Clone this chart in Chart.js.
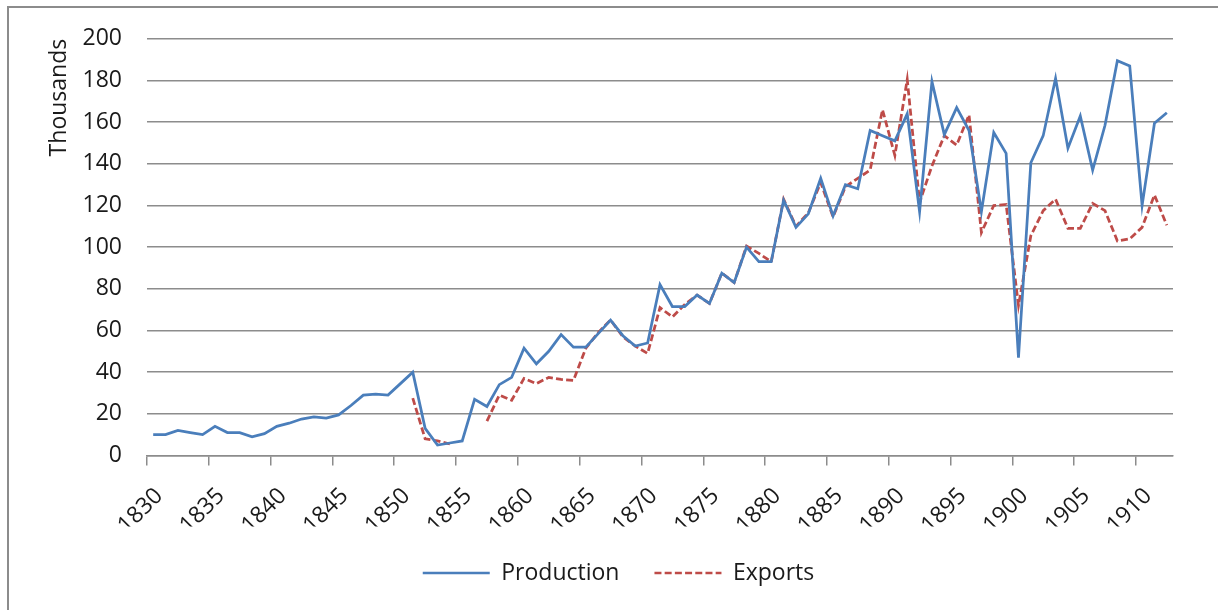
<!DOCTYPE html>
<html>
<head>
<meta charset="utf-8">
<script src="https://cdn.jsdelivr.net/npm/chart.js@4.4.1/dist/chart.umd.min.js"></script>
<style>
  html, body { margin: 0; padding: 0; background: #fff; }
  #wrap { position: relative; width: 1218px; height: 610px; overflow: hidden; }
  #frame { position: absolute; left: 7px; top: 6px; right: -10px; bottom: -10px;
           border-left: 2px solid #8c8c8c; border-top: 2px solid #8c8c8c; }
  #js--chart--1 { position: absolute; left: 0; top: 0; }
</style>
</head>
<body>
<div id="wrap">
  <div id="frame"></div>
  <canvas id="js--chart--1" width="1218" height="610"></canvas>
</div>
<script>
const years = [
  1830, 1831, 1832, 1833, 1834, 1835, 1836, 1837, 1838, 1839,
  1840, 1841, 1842, 1843, 1844, 1845, 1846, 1847, 1848, 1849,
  1850, 1851, 1852, 1853, 1854, 1855, 1856, 1857, 1858, 1859,
  1860, 1861, 1862, 1863, 1864, 1865, 1866, 1867, 1868, 1869,
  1870, 1871, 1872, 1873, 1874, 1875, 1876, 1877, 1878, 1879,
  1880, 1881, 1882, 1883, 1884, 1885, 1886, 1887, 1888, 1889,
  1890, 1891, 1892, 1893, 1894, 1895, 1896, 1897, 1898, 1899,
  1900, 1901, 1902, 1903, 1904, 1905, 1906, 1907, 1908, 1909,
  1910, 1911, 1912
];

// thousands
const production = [
  10, 10, 12, 11, 10, 14, 11, 11, 9, 10.5,
  14, 15.5, 17.5, 18.5, 18, 19.5, 24, 29, 29.5, 29,
  34.5, 40, 13, 5, 6, 7, 27, 23.5, 34, 37.5,
  51.5, 44, 50, 58, 52, 52, 58.5, 65, 57.5, 52.5,
  54, 82, 71.5, 71.5, 77, 73, 87.5, 83, 100, 93,
  93, 122.5, 109.5, 116, 133, 115, 130, 128, 156, 153.5,
  151, 164, 117, 179.5, 154, 167, 156, 117, 155, 145,
  47, 140.5, 153.5, 181, 147.5, 163, 137, 158.5, 189.5, 187,
  120, 159.5, 164.5
];

const exportsData = [
  null, null, null, null, null, null, null, null, null, null,
  null, null, null, null, null, null, null, null, null, null,
  null, 27.5, 8, 7, 5.5, null, null, 16.5, 29, 26.5,
  37, 34.5, 37.5, 36.5, 36, 51.5, 59, 65, 57, 52.5,
  49, 71, 66.5, 72.5, 77, 73, 87.5, 83, 100.5, 97,
  93, 123, 110, 116.5, 131, 114.5, 129, 133, 137, 166,
  144, 180.5, 121.5, 139, 153.5, 149, 163.5, 107, 120, 120.5,
  72, 105.5, 117.5, 123, 109, 109, 121, 117.5, 103, 104,
  109.5, 125, 110.5
];

const yTicks = [0, 20, 40, 60, 80, 100, 120, 140, 160, 180, 200];

Chart.defaults.font.family = "'Open Sans', sans-serif";
Chart.defaults.font.size = 23;
Chart.defaults.color = '#1a1a1a';

const data = {
  labels: years,
  datasets: [
    {
      label: 'Production',
      data: production,
      borderColor: '#4a7ebb',
      backgroundColor: '#4a7ebb',
      borderWidth: 2.75,
      pointRadius: 0,
      tension: 0,
    },
    {
      label: 'Exports',
      data: exportsData,
      borderColor: '#be4b48',
      backgroundColor: '#be4b48',
      borderWidth: 2.75,
      borderDash: [7, 3.2],
      pointRadius: 0,
      tension: 0,
      spanGaps: false,
    }
  ]
};

const config = {
  type: 'line',
  data: data,
  options: {
    responsive: false,
    animation: false,
    layout: { padding: { left: 64, right: 45, top: 37, bottom: 15.5 } },
    plugins: {
      tooltip: { enabled: false },
      legend: {
        position: 'bottom',
        labels: {
          usePointStyle: true,
          pointStyle: 'line',
          pointStyleWidth: 67,
          padding: 35,
          color: '#1a1a1a',
          // line samples with the dataset's own dash (default takes point style)
          generateLabels: chart => chart.data.datasets.map((ds, i) => ({
            text: ds.label,
            datasetIndex: i,
            hidden: false,
            pointStyle: 'line',
            strokeStyle: ds.borderColor,
            fillStyle: ds.borderColor,
            lineWidth: 2.5,
            lineDash: ds.borderDash || [],
            fontColor: '#1a1a1a',
          })),
        }
      }
    },
    scales: {
      x: {
        offset: true,
        // fixed axis box so the labels can sit lower without moving the plot
        afterFit: axis => { axis.paddingLeft = 0; axis.paddingRight = 0; axis.height = 71; },
        grid: {
          offset: true,
          drawOnChartArea: false,
          tickLength: 10,
          lineWidth: 1.5,
          color: ctx => (ctx.tick && years[ctx.index] % 5 === 0) ? '#8c8c8c' : 'rgba(0,0,0,0)',
        },
        border: { color: '#8c8c8c', width: 1.5 },
        ticks: {
          autoSkip: false,
          minRotation: 45,
          maxRotation: 45,
          padding: 17,
          labelOffset: 6,
          callback: function (value, index) {
            return years[index] % 5 === 0 ? String(years[index]) : '';
          }
        }
      },
      y: {
        min: 0,
        max: 200,
        afterBuildTicks: axis => { axis.ticks = yTicks.map(v => ({ value: v })); },
        afterFit: axis => { axis.width = 83; },
        grid: { color: '#8c8c8c', lineWidth: 1.5, drawTicks: false },
        border: { display: false },
        ticks: { padding: 25 },
        title: {
          display: true,
          text: 'Thousands',
          align: 'end',
          padding: { top: -18.8, bottom: 0 },
        }
      }
    }
  }
};

new Chart(document.getElementById('js--chart--1'), config);
</script>
</body>
</html>
